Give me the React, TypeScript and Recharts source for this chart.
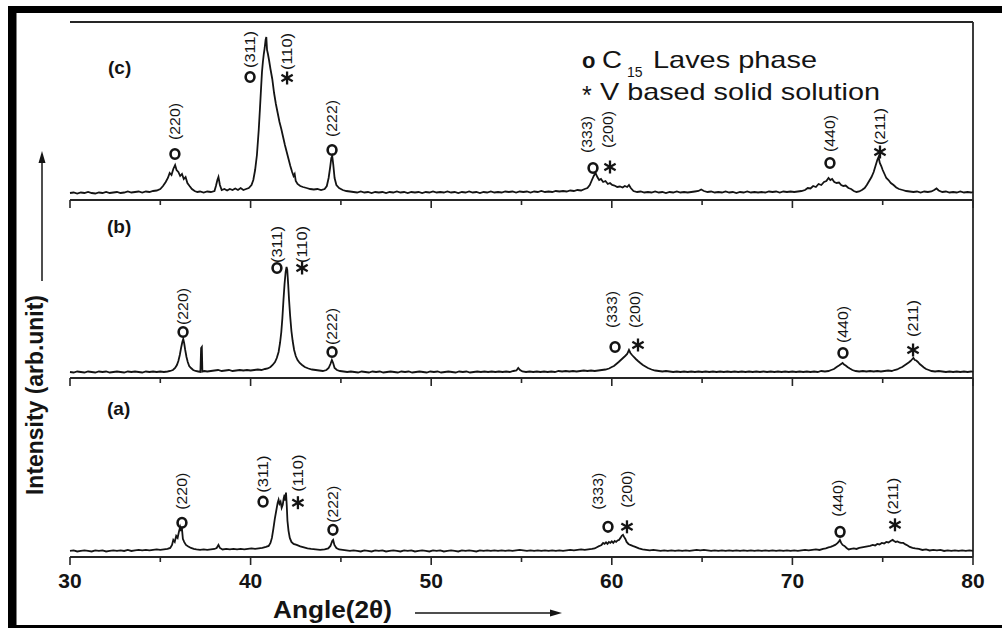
import React from 'react';
import { LineChart, Line, XAxis, YAxis, ReferenceDot, ReferenceLine } from 'recharts';

type Pt = [number, number];
type Peak = { angle: number; mark: number; text: number; hkl: string; phase: 'C15' | 'V'; textAngle?: number };

const ANGLE_TICKS = [30, 35, 40, 45, 50, 55, 60, 65, 70, 75, 80];
const ANGLE_DOMAIN: [number, number] = [30, 80];
const INTENSITY_DOMAIN: [number, number] = [0, 178];

// (c) pattern: [2theta, intensity]
const XRD_C: Pt[] = [
[30.0,7],[30.2,7.5],[30.4,6.5],[30.6,7.5],[30.8,7],[31.0,8],[31.2,7],[31.4,6.5],[31.6,7.5],[31.8,7],[32.0,8],[32.2,7],[32.4,7.5],[32.6,8],[32.8,7],[33.0,7.5],[33.2,8.5],[33.4,7.5],[33.6,8],[33.8,8.5],[34.0,7.5],[34.2,8.5],[34.4,8],[34.6,9],[34.8,9.5],[35.0,11],[35.15,14],[35.3,18],[35.42,22],[35.52,27],[35.62,25],[35.72,31],[35.82,35],[35.9,30],[36.0,28],[36.1,24],[36.2,26],[36.3,21],[36.4,23],[36.5,17],[36.62,14],[36.75,11],[36.9,9],[37.05,8],[37.2,8.5],[37.4,7.5],[37.6,8.5],[37.8,8],[38.0,9],[38.08,14],[38.16,20],[38.22,23],[38.3,15],[38.4,10],[38.55,11],[38.7,9.5],[38.85,11],[39.0,10],[39.15,11.5],[39.3,10],[39.45,12],[39.6,10],[39.75,11],[39.9,12],[40.05,15],[40.15,20],[40.25,30],[40.35,45],[40.45,70],[40.52,92],[40.58,112],[40.63,128],[40.68,138],[40.73,146],[40.78,152],[40.83,160],[40.87,163],[40.91,150],[40.96,146],[41.02,140],[41.1,131],[41.2,121],[41.3,107],[41.4,96],[41.5,87],[41.6,78],[41.7,71],[41.8,63],[41.9,55],[42.0,48],[42.1,41],[42.2,34],[42.3,28],[42.38,24],[42.44,26],[42.5,19],[42.6,16],[42.75,14],[42.9,13],[43.1,12],[43.3,11],[43.5,10.5],[43.7,11],[43.9,10],[44.1,11],[44.22,14],[44.32,22],[44.4,32],[44.47,42],[44.52,44],[44.58,35],[44.65,22],[44.75,15],[44.9,12],[45.1,10],[45.3,9],[45.5,8.5],[45.7,8],[45.9,7.5],[46.1,8.5],[46.3,7.5],[46.5,8],[46.7,7],[46.9,8],[47.1,7.5],[47.3,8],[47.5,7],[47.7,8],[47.9,7.5],[48.1,8.5],[48.3,7.5],[48.5,8],[48.7,7],[48.9,8],[49.1,7.5],[49.3,8],[49.5,7],[49.7,8],[49.9,7.5],[50.1,8.5],[50.3,7.5],[50.5,8],[50.7,7.5],[50.9,8.5],[51.1,7.5],[51.3,8],[51.5,7],[51.7,8],[51.9,7.5],[52.1,8.5],[52.3,7.5],[52.5,8],[52.7,7],[52.9,8],[53.1,7.5],[53.3,8.5],[53.5,7.5],[53.7,8],[53.9,7.5],[54.1,8.5],[54.3,8],[54.5,8.5],[54.7,7.5],[54.9,8.5],[55.1,8],[55.3,8.5],[55.5,7.5],[55.7,8.5],[55.9,8],[56.1,9],[56.3,8],[56.5,8.5],[56.7,8],[56.9,9],[57.1,8.5],[57.3,9],[57.5,8.5],[57.7,9.5],[57.9,9],[58.1,10],[58.3,9.5],[58.5,11],[58.65,12],[58.78,15],[58.9,20],[59.0,24],[59.1,27],[59.2,23],[59.3,20],[59.4,21],[59.52,18],[59.65,19],[59.78,16],[59.9,17],[60.02,15],[60.15,14.5],[60.3,13],[60.45,13.5],[60.6,12.5],[60.72,14],[60.85,13],[60.95,15],[61.05,12],[61.2,9],[61.4,8],[61.6,8.5],[61.8,7.5],[62.0,8],[62.2,7.5],[62.4,8.5],[62.6,7.5],[62.8,8],[63.0,7],[63.2,8],[63.4,7.5],[63.6,8.5],[63.8,7.5],[64.0,8],[64.2,7.5],[64.4,8],[64.6,8.5],[64.8,9],[64.95,10.5],[65.1,9],[65.3,8],[65.5,8.5],[65.7,7.5],[65.9,8],[66.1,7.5],[66.3,8.5],[66.5,7.5],[66.7,8],[66.9,7],[67.1,8],[67.3,7.5],[67.5,8.5],[67.7,7.5],[67.9,8],[68.1,7.5],[68.3,8],[68.5,7.5],[68.7,8.5],[68.9,8],[69.1,8.5],[69.3,7.5],[69.5,8.5],[69.7,8],[69.9,8.5],[70.1,8],[70.3,8.5],[70.5,9],[70.7,10],[70.85,12],[71.0,11.5],[71.15,14],[71.3,13],[71.45,16],[71.6,15],[71.75,18],[71.88,19],[72.0,22],[72.1,20],[72.2,21],[72.32,18],[72.45,17],[72.58,17.5],[72.7,15],[72.82,14],[72.95,14.5],[73.1,12],[73.25,11],[73.4,9],[73.55,8],[73.7,8.5],[73.85,10],[74.0,12],[74.12,15],[74.25,19],[74.38,23],[74.5,28],[74.6,34],[74.7,40],[74.77,43],[74.84,37],[74.92,34],[75.0,30],[75.1,26],[75.2,22],[75.32,20],[75.45,17],[75.6,15],[75.75,12.5],[75.9,11],[76.1,10],[76.3,9],[76.5,8.5],[76.7,8],[76.9,8.5],[77.1,7.5],[77.3,8.5],[77.5,8],[77.7,8.5],[77.85,10],[77.98,11.5],[78.1,9.5],[78.3,8],[78.5,8.5],[78.7,7.5],[78.9,8],[79.1,7.5],[79.3,8.5],[79.5,7.5],[79.7,8],[79.9,7.5],[80.0,8]
];

// (b) pattern
const XRD_B: Pt[] = [
[30.0,6],[30.2,5.5],[30.4,6.5],[30.6,6],[30.8,5.5],[31.0,6.5],[31.2,6],[31.4,5.5],[31.6,6.5],[31.8,6],[32.0,6.5],[32.2,5.5],[32.4,6],[32.6,6.5],[32.8,6],[33.0,5.5],[33.2,6.5],[33.4,6],[33.6,6.5],[33.8,6],[34.0,5.5],[34.2,6.5],[34.4,6],[34.6,6.5],[34.8,6],[35.0,6.5],[35.2,6],[35.4,6.5],[35.55,7],[35.7,8],[35.82,10],[35.92,13],[36.0,17],[36.08,23],[36.15,30],[36.22,36],[36.27,39],[36.32,35],[36.38,28],[36.45,21],[36.52,16],[36.6,12],[36.7,10],[36.82,8],[36.95,7],[37.1,6.5],[37.22,6],[37.26,30],[37.3,31],[37.33,6.5],[37.45,7],[37.6,6.5],[37.8,7],[38.0,7.5],[38.2,8],[38.4,7],[38.6,7.5],[38.8,8],[39.0,7],[39.2,7.5],[39.4,8],[39.6,7.5],[39.8,8],[40.0,7.5],[40.2,8],[40.4,8.5],[40.6,8],[40.8,9],[40.95,9.5],[41.1,11],[41.22,13],[41.35,16],[41.45,20],[41.55,26],[41.63,35],[41.7,46],[41.76,60],[41.82,78],[41.88,94],[41.94,106],[41.99,111],[42.03,108],[42.08,94],[42.13,78],[42.19,62],[42.26,47],[42.33,37],[42.41,28],[42.5,22],[42.6,18],[42.72,15],[42.85,13],[43.0,11],[43.2,9.5],[43.4,8.5],[43.6,8],[43.8,7.5],[44.0,7],[44.2,8],[44.32,10],[44.42,14],[44.5,18],[44.57,15],[44.65,10],[44.78,8],[44.95,7],[45.15,6.5],[45.35,6],[45.55,6.5],[45.75,6],[45.95,5.5],[46.15,6.5],[46.35,6],[46.55,5.5],[46.75,6.5],[46.95,6],[47.15,6.5],[47.35,5.5],[47.55,6],[47.75,6.5],[47.95,6],[48.15,5.5],[48.35,6.5],[48.55,6],[48.75,6.5],[48.95,5.5],[49.15,6],[49.35,6.5],[49.55,6],[49.75,5.5],[49.95,6.5],[50.15,6],[50.35,6.5],[50.55,5.5],[50.75,6],[50.95,6.5],[51.15,6],[51.35,5.5],[51.55,6.5],[51.75,6],[51.95,6.5],[52.15,5.5],[52.35,6],[52.55,6.5],[52.75,6],[52.95,6.5],[53.15,6],[53.35,6.5],[53.55,6],[53.75,6.5],[53.95,6],[54.15,6.5],[54.35,6],[54.55,7],[54.72,7.5],[54.82,10],[54.92,8],[55.05,6.5],[55.25,6],[55.45,6.5],[55.65,6],[55.85,6.5],[56.05,6],[56.25,6.5],[56.45,6],[56.65,6.5],[56.85,6],[57.05,7],[57.25,6.5],[57.45,7],[57.65,6.5],[57.85,7],[58.05,6.5],[58.25,7],[58.45,7.5],[58.65,7],[58.85,7.5],[59.05,7],[59.25,7.5],[59.45,8],[59.65,8.5],[59.85,9.5],[60.0,11],[60.12,12],[60.25,14],[60.38,16],[60.5,18],[60.62,20],[60.74,22],[60.85,24],[60.95,28],[61.03,25],[61.12,23],[61.22,21],[61.33,19],[61.45,17],[61.58,15],[61.72,13],[61.86,11.5],[62.0,10],[62.2,8.5],[62.4,7.5],[62.6,7],[62.8,6.5],[63.0,7],[63.2,6.5],[63.4,6],[63.6,6.5],[63.8,6],[64.0,6.5],[64.2,6],[64.4,6.5],[64.6,6],[64.8,6.5],[65.0,6],[65.2,6.5],[65.4,6],[65.6,6.5],[65.8,6],[66.0,6.5],[66.2,6],[66.4,6.5],[66.6,6],[66.8,6.5],[67.0,6],[67.2,6.5],[67.4,6],[67.6,6.5],[67.8,6],[68.0,6.5],[68.2,6],[68.4,6.5],[68.6,6],[68.8,6.5],[69.0,6],[69.2,6.5],[69.4,6],[69.6,6.5],[69.8,6],[70.0,6.5],[70.2,6],[70.4,6.5],[70.6,6],[70.8,6.5],[71.0,6],[71.2,6.5],[71.4,6],[71.6,7],[71.8,6.5],[72.0,7],[72.15,8],[72.3,9],[72.45,11],[72.58,12.5],[72.7,14],[72.78,15],[72.86,13.5],[72.95,12.5],[73.05,11],[73.18,9.5],[73.32,8],[73.5,7],[73.7,6.5],[73.9,7],[74.1,6.5],[74.3,7],[74.5,6.5],[74.7,7],[74.9,6.5],[75.1,7],[75.3,7.5],[75.5,7],[75.65,8],[75.8,8.5],[75.95,10],[76.08,11],[76.2,12.5],[76.32,14],[76.44,15.5],[76.54,17],[76.62,18.5],[76.7,20],[76.78,18],[76.86,17.5],[76.95,16],[77.05,14],[77.15,12.5],[77.28,10.5],[77.4,9],[77.55,8],[77.7,7],[77.9,6.5],[78.1,7],[78.3,6.5],[78.5,6],[78.7,6.5],[78.9,6],[79.1,6.5],[79.3,6],[79.5,6.5],[79.7,6],[79.9,6.5],[80.0,6]
];

// (a) pattern
const XRD_A: Pt[] = [
[30.0,6],[30.2,6.5],[30.4,5.5],[30.6,6],[30.8,6.5],[31.0,6],[31.2,5.5],[31.4,6.5],[31.6,6],[31.8,6.5],[32.0,5.5],[32.2,6],[32.4,6.5],[32.6,6],[32.8,6.5],[33.0,6],[33.2,7],[33.4,6],[33.6,6.5],[33.8,7],[34.0,6.5],[34.2,7],[34.4,6.5],[34.6,7],[34.8,7.5],[35.0,7],[35.2,7.5],[35.4,8],[35.55,9],[35.65,12],[35.72,17],[35.8,15],[35.88,21],[35.96,19],[36.03,25],[36.1,30],[36.15,27],[36.2,28],[36.25,18],[36.32,15],[36.42,12],[36.55,10.5],[36.7,9],[36.85,8],[37.0,7.5],[37.2,7],[37.4,7.5],[37.6,7],[37.8,7.5],[38.0,8],[38.12,9],[38.22,12],[38.3,9],[38.45,7.5],[38.65,8],[38.85,7.5],[39.05,8],[39.25,7.5],[39.45,8],[39.65,7.5],[39.85,8],[40.05,8.5],[40.25,8],[40.45,8.5],[40.65,9],[40.85,10],[41.0,11],[41.1,14],[41.18,19],[41.26,28],[41.34,38],[41.42,46],[41.5,54],[41.55,57],[41.6,53],[41.66,55],[41.72,49],[41.78,52],[41.83,58],[41.88,62],[41.92,56],[41.96,64],[42.0,52],[42.04,36],[42.1,26],[42.17,19],[42.26,15],[42.38,13],[42.55,12],[42.75,10.5],[42.95,9.5],[43.15,8.5],[43.35,8],[43.6,7.5],[43.85,7],[44.1,7.5],[44.3,8.5],[44.42,11],[44.52,16],[44.57,17],[44.64,12],[44.75,9],[44.9,7.5],[45.1,7],[45.3,6.5],[45.5,6],[45.7,6.5],[45.9,6],[46.1,5.5],[46.3,6.5],[46.5,6],[46.7,5.5],[46.9,6.5],[47.1,6],[47.3,6.5],[47.5,5.5],[47.7,6],[47.9,6.5],[48.1,6],[48.3,5.5],[48.5,6.5],[48.7,6],[48.9,6.5],[49.1,5.5],[49.3,6],[49.5,6.5],[49.7,6],[49.9,5.5],[50.1,6.5],[50.3,6],[50.5,6.5],[50.7,5.5],[50.9,6],[51.1,6.5],[51.3,6],[51.5,5.5],[51.7,6.5],[51.9,6],[52.1,6.5],[52.3,6],[52.5,5.5],[52.7,6.5],[52.9,6],[53.1,6.5],[53.3,6],[53.5,6.5],[53.7,6],[53.9,6.5],[54.1,6],[54.3,6.5],[54.5,6],[54.7,6.5],[54.9,7],[55.1,6.5],[55.3,6],[55.5,6.5],[55.7,6],[55.9,6.5],[56.1,6],[56.3,6.5],[56.5,6],[56.7,6.5],[56.9,6],[57.1,6.5],[57.3,6],[57.5,6.5],[57.7,7],[57.9,6.5],[58.1,7],[58.3,7.5],[58.5,7],[58.7,7.5],[58.9,8],[59.05,8.5],[59.2,10],[59.32,11],[59.43,12],[59.52,14],[59.6,13],[59.68,14.5],[59.76,13],[59.84,15],[59.92,14],[60.0,15.5],[60.08,14],[60.16,16],[60.24,15],[60.32,16.5],[60.4,17],[60.48,19],[60.55,21],[60.62,22],[60.68,20],[60.75,18],[60.82,15],[60.92,13],[61.02,12],[61.15,11],[61.3,10],[61.5,8.5],[61.7,7.5],[61.9,7],[62.1,6.5],[62.3,7],[62.5,6.5],[62.7,6],[62.9,6.5],[63.1,6],[63.3,6.5],[63.5,6],[63.7,6.5],[63.9,6],[64.1,6.5],[64.3,6],[64.5,6.5],[64.7,7],[64.9,6.5],[65.1,7],[65.3,6.5],[65.5,6],[65.7,6.5],[65.9,6],[66.1,6.5],[66.3,6],[66.5,6.5],[66.7,6],[66.9,6.5],[67.1,6],[67.3,6.5],[67.5,6],[67.7,6.5],[67.9,6],[68.1,6.5],[68.3,6],[68.5,6.5],[68.7,6],[68.9,6.5],[69.1,6],[69.3,6.5],[69.5,6],[69.7,6.5],[69.9,6],[70.1,6.5],[70.3,6],[70.5,6.5],[70.7,7],[70.9,6.5],[71.1,7],[71.3,7.5],[71.5,7],[71.7,8],[71.85,8.5],[72.0,9.5],[72.12,10],[72.25,11],[72.37,12],[72.48,13.5],[72.56,15],[72.63,17],[72.7,14],[72.78,12],[72.88,11],[73.0,9],[73.12,7.5],[73.25,8],[73.4,8.5],[73.55,8],[73.7,9],[73.85,9.5],[74.0,10],[74.15,10.5],[74.3,11],[74.45,12],[74.58,11.5],[74.7,13],[74.82,12.5],[74.95,14],[75.08,13.5],[75.2,15],[75.32,14.5],[75.44,16],[75.55,17],[75.63,16],[75.72,15],[75.82,15.5],[75.92,14.5],[76.02,14],[76.14,14],[76.26,12.5],[76.38,11.5],[76.5,10],[76.65,9],[76.8,8.5],[77.0,8],[77.2,7],[77.4,7.5],[77.6,6.5],[77.8,7],[78.0,6.5],[78.2,7],[78.4,6],[78.6,6.5],[78.8,6],[79.0,6.5],[79.2,6],[79.4,6.5],[79.6,6],[79.8,6.5],[80.0,6]
];

// peak annotations: marker position and label start (data coordinates)
const PEAKS_C: Peak[] = [
  { angle: 35.81, mark: 46, text: 60, hkl: '(220)', phase: 'C15' },
  { angle: 39.97, mark: 123, text: 132, hkl: '(311)', phase: 'C15' },
  { angle: 42.02, mark: 122, text: 130, hkl: '(110)', phase: 'V' },
  { angle: 44.51, mark: 50, text: 63, hkl: '(222)', phase: 'C15' },
  { angle: 58.96, textAngle: 58.63, mark: 32, text: 47, hkl: '(333)', phase: 'C15' },
  { angle: 59.9, textAngle: 59.79, mark: 33, text: 52, hkl: '(200)', phase: 'V' },
  { angle: 72.08, mark: 37, text: 48, hkl: '(440)', phase: 'C15' },
  { angle: 74.85, mark: 48, text: 55, hkl: '(211)', phase: 'V' },
];
const PEAKS_B: Peak[] = [
  { angle: 36.26, mark: 46, text: 53, hkl: '(220)', phase: 'C15' },
  { angle: 41.46, mark: 110, text: 115, hkl: '(311)', phase: 'C15' },
  { angle: 42.85, mark: 110, text: 115, hkl: '(110)', phase: 'V' },
  { angle: 44.51, mark: 26, text: 33, hkl: '(222)', phase: 'C15' },
  { angle: 60.18, textAngle: 60.01, mark: 31, text: 50, hkl: '(333)', phase: 'C15' },
  { angle: 61.45, textAngle: 61.28, mark: 33, text: 50, hkl: '(200)', phase: 'V' },
  { angle: 72.8, mark: 25, text: 35, hkl: '(440)', phase: 'C15' },
  { angle: 76.68, mark: 28, text: 41, hkl: '(211)', phase: 'V' },
];
const PEAKS_A: Peak[] = [
  { angle: 36.2, mark: 34, text: 47, hkl: '(220)', phase: 'C15' },
  { angle: 40.69, mark: 55, text: 64, hkl: '(311)', phase: 'C15' },
  { angle: 42.62, mark: 54, text: 65, hkl: '(110)', phase: 'V' },
  { angle: 44.56, mark: 27, text: 34, hkl: '(222)', phase: 'C15' },
  { angle: 59.79, textAngle: 59.24, mark: 30, text: 47, hkl: '(333)', phase: 'C15' },
  { angle: 60.84, mark: 30, text: 49, hkl: '(200)', phase: 'V' },
  { angle: 72.64, textAngle: 72.48, mark: 25, text: 40, hkl: '(440)', phase: 'C15' },
  { angle: 75.68, textAngle: 75.57, mark: 32, text: 42, hkl: '(211)', phase: 'V' },
];

const PANEL_NAMES = ['(c)', '(b)', '(a)'];
const LEGEND_PHASE = 'Laves phase';
const LEGEND_SOLID = 'V based solid solution';
const Y_TITLE = 'Intensity (arb.unit)';
const X_TITLE = 'Angle(2\u03B8)';

const FONT = '"Liberation Sans", Arial, Helvetica, sans-serif';
const INK = '#141414';
const AXIS = '#262626';

const toRows = (pts: Pt[]) => pts.map(([a, i]) => ({ a, i }));

function XTick(props: any) {
  const { x, y, payload, showLabel } = props;
  const v = payload.value;
  const major = v % 10 === 0;
  return (
    <g>
      <line x1={x} x2={x} y1={y} y2={y + (major ? 8 : 5)} stroke={AXIS} strokeWidth={1.6} />
      {showLabel && major ? (
        <text x={x} y={y + 31} textAnchor="middle" fontFamily={FONT} fontWeight="bold" fontSize={21} fill={INK}>
          {v}
        </text>
      ) : null}
    </g>
  );
}

function Marker(props: any) {
  const { cx, cy, phase } = props;
  if (phase === 'C15') {
    return <ellipse cx={cx} cy={cy} rx={4.4} ry={4.8} fill="none" stroke={INK} strokeWidth={2.6} />;
  }
  const r = 6.5;
  const arms = [90, 30, -30];
  return (
    <g>
      {arms.map((deg) => {
        const t = (deg * Math.PI) / 180;
        return (
          <line key={deg} x1={cx - r * Math.cos(t)} y1={cy - r * Math.sin(t)} x2={cx + r * Math.cos(t)} y2={cy + r * Math.sin(t)} stroke={INK} strokeWidth={2.3} />
        );
      })}
    </g>
  );
}

function HklLabel(props: any) {
  const { cx, cy, hkl } = props;
  return (
    <text
      transform={`rotate(-90 ${cx} ${cy})`}
      x={cx}
      y={cy}
      dy="0.36em"
      fontFamily={FONT}
      fontSize={15}
      fill={INK}
      textLength={37}
      lengthAdjust="spacingAndGlyphs"
    >
      {hkl}
    </text>
  );
}

type PanelProps = { top: number; height: number; marginTop: number; axisHeight: number; pts: Pt[]; peaks: Peak[]; showLabels: boolean; drawTop: boolean };

function Panel({ top, height, marginTop, axisHeight, pts, peaks, showLabels, drawTop }: PanelProps) {
  return (
    <div style={{ position: 'absolute', left: 0, top, width: 1004, height }}>
      <LineChart width={1004} height={height} data={toRows(pts)} margin={{ top: marginTop, right: 31, bottom: 0, left: 70 }}>
        <XAxis
          dataKey="a"
          type="number"
          domain={ANGLE_DOMAIN}
          ticks={ANGLE_TICKS}
          interval={0}
          height={axisHeight}
          tickLine={false}
          tickSize={0}
          tickMargin={0}
          axisLine={{ stroke: AXIS, strokeWidth: 1.8 }}
          tick={(p: any) => <XTick {...p} showLabel={showLabels} />}
        />
        <YAxis yAxisId="l" type="number" domain={INTENSITY_DOMAIN} width={0} tick={false} tickLine={false} axisLine={{ stroke: AXIS, strokeWidth: 1.8 }} />
        <ReferenceLine x={80} yAxisId="l" stroke={AXIS} strokeWidth={1.8} ifOverflow="visible" />
        {drawTop ? <ReferenceLine y={INTENSITY_DOMAIN[1]} yAxisId="l" stroke={AXIS} strokeWidth={1.8} ifOverflow="visible" /> : null}
        <Line yAxisId="l" dataKey="i" type="linear" dot={false} stroke={INK} strokeWidth={1.8} isAnimationActive={false} />
        {peaks.map((p, k) => (
          <ReferenceDot
            key={`m${k}`}
            yAxisId="l"
            x={p.angle}
            y={p.mark}
            r={0}
            ifOverflow="visible"
            shape={(sp: any) => <Marker cx={sp.cx} cy={sp.cy} phase={p.phase} />}
          />
        ))}
        {peaks.map((p, k) => (
          <ReferenceDot
            key={`t${k}`}
            yAxisId="l"
            x={p.textAngle ?? p.angle}
            y={p.text}
            r={0}
            ifOverflow="visible"
            shape={(sp: any) => <HklLabel cx={sp.cx} cy={sp.cy} hkl={p.hkl} />}
          />
        ))}
      </LineChart>
    </div>
  );
}

export default function App() {
  return (
    <div style={{ position: 'absolute', left: 0, top: 0, width: 1004, height: 628, background: '#fff', overflow: 'hidden' }}>
      <Panel top={0} height={212} marginTop={22} axisHeight={12} pts={XRD_C} peaks={PEAKS_C} showLabels={false} drawTop={true} />
      <Panel top={190} height={200} marginTop={10} axisHeight={12} pts={XRD_B} peaks={PEAKS_B} showLabels={false} drawTop={false} />
      <Panel top={368} height={229} marginTop={10} axisHeight={40} pts={XRD_A} peaks={PEAKS_A} showLabels={true} drawTop={false} />
      <svg width={1004} height={628} style={{ position: 'absolute', left: 0, top: 0, pointerEvents: 'none' }}>
        {/* outer black frame */}
        <rect x={8} y={6} width={994} height={7} fill="#000" />
        <rect x={8} y={6} width={8.5} height={622} fill="#000" />
        <rect x={8} y={625} width={994} height={3} fill="#000" />
        {/* panel names */}
        <text x={108} y={74} fontFamily={FONT} fontWeight="bold" fontSize={19} fill={INK}>{PANEL_NAMES[0]}</text>
        <text x={107} y={233} fontFamily={FONT} fontWeight="bold" fontSize={19} fill={INK}>{PANEL_NAMES[1]}</text>
        <text x={107} y={415} fontFamily={FONT} fontWeight="bold" fontSize={19} fill={INK}>{PANEL_NAMES[2]}</text>
        {/* legend */}
        <text x={582} y={68} fontFamily={FONT} fontWeight="bold" fontSize={22} fill={INK}>o</text>
        <text x={602} y={68} fontFamily={FONT} fontSize={24} fill={INK} textLength={20} lengthAdjust="spacingAndGlyphs">C</text>
        <text x={627} y={77} fontFamily={FONT} fontSize={14} fill={INK}>15</text>
        <text x={653} y={68} fontFamily={FONT} fontSize={24} fill={INK} textLength={164} lengthAdjust="spacingAndGlyphs">{LEGEND_PHASE}</text>
        <text x={582} y={104} fontFamily={FONT} fontSize={25} fill={INK}>*</text>
        <text x={600} y={100} fontFamily={FONT} fontSize={24} fill={INK} textLength={280} lengthAdjust="spacingAndGlyphs">{LEGEND_SOLID}</text>
        {/* y title with arrow */}
        <text transform="rotate(-90 43 495)" x={43} y={495} fontFamily={FONT} fontWeight="bold" fontSize={23} fill={INK} textLength={200} lengthAdjust="spacingAndGlyphs">{Y_TITLE}</text>
        <line x1={42} y1={281} x2={42} y2={160} stroke={INK} strokeWidth={1.5} />
        <polygon points="42,151 38.5,163 45.5,163" fill={INK} />
        {/* x title with arrow */}
        <text x={273} y={618} fontFamily={FONT} fontWeight="bold" fontSize={23} fill={INK} textLength={119} lengthAdjust="spacingAndGlyphs">{X_TITLE}</text>
        <line x1={415} y1={613} x2={552} y2={613} stroke={INK} strokeWidth={1.5} />
        <polygon points="562,613 550,609.5 550,616.5" fill={INK} />
      </svg>
    </div>
  );
}
